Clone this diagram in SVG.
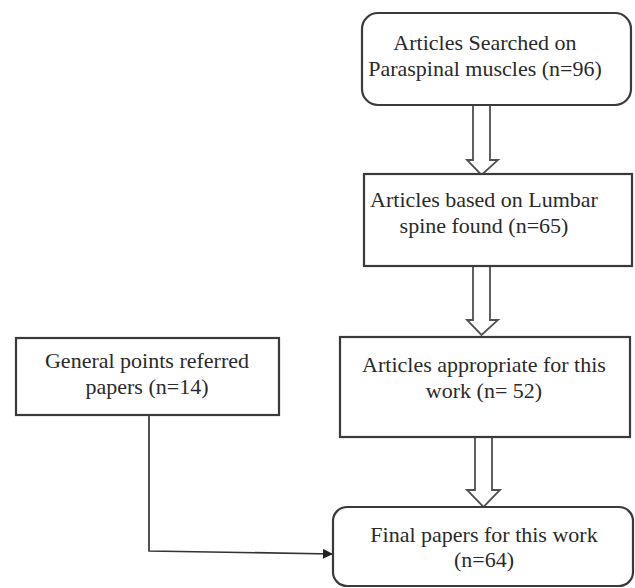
<svg xmlns="http://www.w3.org/2000/svg" width="635" height="588" viewBox="0 0 635 588">
<defs>
<style>
.box{fill:#fff;stroke:#3a3a3a;stroke-width:2.2}
.t{font-family:"Liberation Serif","Times New Roman",serif;font-size:22px;fill:#2a2a2a;text-anchor:middle}
.dbl{fill:#fff;stroke:#505050;stroke-width:1.8;stroke-linejoin:miter}
.ln{fill:none;stroke:#333;stroke-width:1.7}
</style>
<marker id="ah" viewBox="0 0 10 10" refX="10" refY="5" markerWidth="11" markerHeight="10" markerUnits="userSpaceOnUse" orient="auto">
<path d="M0,0 L10,5 L0,10 z" fill="#222"/>
</marker>
</defs>
<rect width="635" height="588" fill="#fff"/>
<g id="connectors">
<path class="dbl" d="M473,105 L473,160 L467,160 L481.5,175 L498,160 L490,160 L490,105"/>
<path class="dbl" d="M473,266 L473,320 L467,320 L481.5,335 L498,320 L490,320 L490,266"/>
<path class="dbl" d="M475,437 L475,490 L467,490 L483.5,507 L500,490 L492,490 L492,437"/>
<path class="ln" d="M149,415 L149,551 L333,554" marker-end="url(#ah)"/>
</g>
<g id="n1">
<rect class="box" x="362" y="13" width="269" height="92" rx="16"/>
<text class="t" x="485" y="50">Articles Searched on</text>
<text class="t" x="485" y="76">Paraspinal muscles (n=96)</text>
</g>
<g id="n2">
<rect class="box" x="364" y="174" width="268" height="92"/>
<text class="t" x="484" y="207">Articles based on Lumbar</text>
<text class="t" x="484" y="233">spine found (n=65)</text>
</g>
<g id="n3">
<rect class="box" x="340" y="337" width="290" height="100"/>
<text class="t" x="484" y="372">Articles appropriate for this</text>
<text class="t" x="484" y="398">work (n= 52)</text>
</g>
<g id="n4">
<rect class="box" x="333" y="507" width="300" height="79" rx="14"/>
<text class="t" x="484" y="542">Final papers for this work</text>
<text class="t" x="484" y="567">(n=64)</text>
</g>
<g id="n5">
<rect class="box" x="16" y="338" width="263" height="77"/>
<text class="t" x="147" y="368">General points referred</text>
<text class="t" x="147" y="394">papers (n=14)</text>
</g>
</svg>
